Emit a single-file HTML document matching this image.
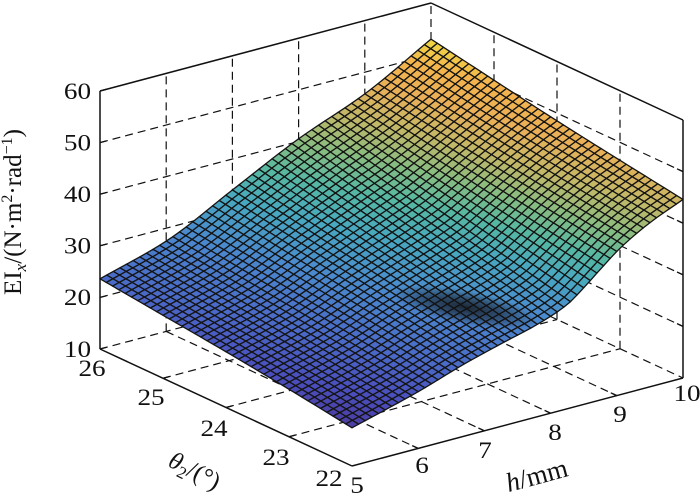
<!DOCTYPE html>
<html><head><meta charset="utf-8">
<style>
html,body{margin:0;padding:0;background:#fff;}
svg{display:block;}
text{font-family:"Liberation Serif","Times New Roman",serif;fill:#111;}
</style></head>
<body>
<svg id="s" width="700" height="495" viewBox="0 0 700 495" xmlns="http://www.w3.org/2000/svg">
<defs>
<radialGradient id="dg" cx="0.5" cy="0.5" r="0.5">
<stop offset="0" stop-color="#111" stop-opacity="0.8"/>
<stop offset="0.55" stop-color="#111" stop-opacity="0.45"/>
<stop offset="1" stop-color="#111" stop-opacity="0"/>
</radialGradient>
<clipPath id="sc"><path id="scp" d=""/></clipPath>
</defs>
<!-- dashed grid -->
<g stroke="#111" stroke-width="1.2" stroke-dasharray="8,5" fill="none">
<line x1="100" y1="297.4" x2="431" y2="209.4"/>
<line x1="100" y1="245.8" x2="431" y2="157.8"/>
<line x1="100" y1="194.2" x2="431" y2="106.2"/>
<line x1="100" y1="142.6" x2="431" y2="54.6"/>
<line x1="166.2" y1="331.4" x2="166.2" y2="73.4"/>
<line x1="232.4" y1="313.8" x2="232.4" y2="55.8"/>
<line x1="298.6" y1="296.2" x2="298.6" y2="38.2"/>
<line x1="364.8" y1="278.6" x2="364.8" y2="20.6"/>
<line x1="431" y1="261" x2="431" y2="3"/>
<line x1="431" y1="209.4" x2="683" y2="326.4"/>
<line x1="431" y1="157.8" x2="683" y2="274.8"/>
<line x1="431" y1="106.2" x2="683" y2="223.2"/>
<line x1="431" y1="54.6" x2="683" y2="171.6"/>
<line x1="494" y1="290.25" x2="494" y2="32.25"/>
<line x1="557" y1="319.5" x2="557" y2="61.5"/>
<line x1="620" y1="348.75" x2="620" y2="90.75"/>
<line x1="100" y1="349" x2="431" y2="261"/>
<line x1="431" y1="261" x2="683" y2="378"/>
<line x1="163" y1="378.25" x2="494" y2="290.25"/>
<line x1="226" y1="407.5" x2="557" y2="319.5"/>
<line x1="289" y1="436.75" x2="620" y2="348.75"/>
<line x1="166.2" y1="331.4" x2="418.2" y2="448.4"/>
<line x1="232.4" y1="313.8" x2="484.4" y2="430.8"/>
<line x1="298.6" y1="296.2" x2="550.6" y2="413.2"/>
<line x1="364.8" y1="278.6" x2="616.8" y2="395.6"/>
</g>

<g id="surf" stroke="#141414" stroke-width="1.3" stroke-linejoin="round"></g>
<g clip-path="url(#sc)">
<ellipse cx="465" cy="307" rx="74" ry="17" transform="rotate(11 465 307)" fill="url(#dg)"/>
</g>

<!-- solid axes -->
<g stroke="#111" stroke-width="1.5" fill="none">
<line x1="100" y1="91" x2="100" y2="349"/>
<line x1="100" y1="349" x2="352" y2="466"/>
<line x1="352" y1="466" x2="683" y2="378"/>
<line x1="683" y1="378" x2="683" y2="120"/>
<line x1="100" y1="91" x2="431" y2="3"/>
<line x1="431" y1="3" x2="683" y2="120"/>
</g>
<!-- ticks -->
<g stroke="#111" stroke-width="1.3" fill="none">
<line x1="100" y1="349" x2="106.5" y2="347.3"/>
<line x1="100" y1="297.4" x2="106.5" y2="295.7"/>
<line x1="100" y1="245.8" x2="106.5" y2="244.1"/>
<line x1="100" y1="194.2" x2="106.5" y2="192.5"/>
<line x1="100" y1="142.6" x2="106.5" y2="140.9"/>
<line x1="100" y1="91" x2="106.5" y2="89.3"/>
<line x1="163" y1="378.25" x2="169.5" y2="376.5"/>
<line x1="226" y1="407.5" x2="232.5" y2="405.8"/>
<line x1="289" y1="436.75" x2="295.5" y2="435"/>
<line x1="418.2" y1="448.4" x2="412.2" y2="445.6"/>
<line x1="484.4" y1="430.8" x2="478.4" y2="428"/>
<line x1="550.6" y1="413.2" x2="544.6" y2="410.4"/>
<line x1="616.8" y1="395.6" x2="610.8" y2="392.8"/>
<line x1="683" y1="326.4" x2="677" y2="323.6"/>
<line x1="683" y1="274.8" x2="677" y2="272"/>
<line x1="683" y1="223.2" x2="677" y2="220.4"/>
<line x1="683" y1="171.6" x2="677" y2="168.8"/>
</g>

<!-- z tick labels -->
<g font-size="23" text-anchor="end">
<text transform="translate(91,98.8) scale(1.18,1)">60</text>
<text transform="translate(91,150.4) scale(1.18,1)">50</text>
<text transform="translate(91,202) scale(1.18,1)">40</text>
<text transform="translate(91,253.6) scale(1.18,1)">30</text>
<text transform="translate(91,305.2) scale(1.18,1)">20</text>
<text transform="translate(91,356.8) scale(1.18,1)">10</text>
</g>
<!-- theta tick labels -->
<g font-size="23" text-anchor="middle">
<text transform="translate(92,375.8) scale(1.18,1)">26</text>
<text transform="translate(151,404.8) scale(1.18,1)">25</text>
<text transform="translate(214,435.8) scale(1.18,1)">24</text>
<text transform="translate(276,464.8) scale(1.18,1)">23</text>
<text transform="translate(329,485.8) scale(1.18,1)">22</text>
</g>
<!-- h tick labels -->
<g font-size="23" text-anchor="middle">
<text transform="translate(357,492.8) scale(1.18,1)">5</text>
<text transform="translate(422,472.8) scale(1.18,1)">6</text>
<text transform="translate(485,457.8) scale(1.18,1)">7</text>
<text transform="translate(555,439.8) scale(1.18,1)">8</text>
<text transform="translate(620,421.8) scale(1.18,1)">9</text>
<text transform="translate(687,400.8) scale(1.18,1)">10</text>
</g>
<!-- axis labels -->
<text transform="translate(21,212) rotate(-90)" text-anchor="middle" font-size="25">EI<tspan dy="5" font-size="17" font-style="italic">x</tspan><tspan dy="-5">/(N·m</tspan><tspan dy="-9" font-size="16">2</tspan><tspan dy="9">·rad</tspan><tspan dy="-9" font-size="16">−1</tspan><tspan dy="9">)</tspan></text>
<text transform="translate(191,478) rotate(27)" text-anchor="middle" font-size="25"><tspan font-style="italic">θ</tspan><tspan dy="5" font-size="17">2</tspan><tspan dy="-5">/(°)</tspan></text>
<text transform="translate(539,484) rotate(-15)" text-anchor="middle" font-size="27"><tspan font-style="italic">h</tspan>/mm</text>
</svg>
<script>
(function(){
function P(th,h,z){return [100+(26-th)*63+(h-5)*66.2, 349+(26-th)*29.25-(h-5)*17.6-(z-10)*5.16];}
function mk(xs,ys){
  var n=xs.length,d=[],m=[],i;
  for(i=0;i<n-1;i++)d.push((ys[i+1]-ys[i])/(xs[i+1]-xs[i]));
  m[0]=d[0];m[n-1]=d[n-2];
  for(i=1;i<n-1;i++){
    if(d[i-1]*d[i]<=0)m[i]=0;
    else{var h1=xs[i]-xs[i-1],h2=xs[i+1]-xs[i];var w1=2*h2+h1,w2=h2+2*h1;m[i]=(w1+w2)/(w1/d[i-1]+w2/d[i]);}
  }
  return function(x){
    if(x<=xs[0])return ys[0];if(x>=xs[n-1])return ys[n-1];
    var k=0;while(x>xs[k+1])k++;
    var hh=xs[k+1]-xs[k],t=(x-xs[k])/hh,t2=t*t,t3=t2*t;
    return (2*t3-3*t2+1)*ys[k]+(t3-2*t2+t)*hh*m[k]+(-2*t3+3*t2)*ys[k+1]+(t3-t2)*hh*m[k+1];
  };
}
var E1=mk([5,6,7,8,9,10],[23.6,27.5,34,40.5,45.8,53]);
var E2=mk([5,6,6.7,7.25,7.8,8.25,8.5,8.75,9.05,9.5,10],[17.4,21,24,26,27.9,30.2,32.6,35.3,38.4,41.8,44.6]);
var F1=mk([22,23,24,25,26],[17.4,19.2,20.8,22.2,23.6]);
var F2=mk([22,24,26],[44.6,48.5,53]);
var Nt=40,Nh=50,Z=[],i,j;
for(i=0;i<=Nt;i++){Z[i]=[];var s=i/Nt,th=26-4*s;
  for(j=0;j<=Nh;j++){var t=j/Nh,h=5+5*t;
    Z[i][j]=(1-s)*E1(h)+s*E2(h)+(1-t)*F1(th)+t*F2(th)-((1-s)*(1-t)*23.6+s*(1-t)*17.4+(1-s)*t*53+s*t*44.6);
  }}
var stops=[[0,[76,58,156]],[0.08,[74,78,188]],[0.18,[74,106,200]],[0.32,[74,138,206]],[0.44,[72,168,192]],[0.54,[86,184,162]],[0.63,[136,188,128]],[0.72,[192,184,104]],[0.82,[234,176,88]],[0.91,[244,180,76]],[0.96,[240,204,72]],[1,[236,224,64]]];
function cmap(v){
  var t=(v-17)/(53.5-17);if(t<0)t=0;if(t>1)t=1;
  for(var k=0;k<stops.length-1;k++){
    if(t<=stops[k+1][0]){var a=stops[k],b=stops[k+1],f=(t-a[0])/(b[0]-a[0]);
      return 'rgb('+Math.round(a[1][0]+f*(b[1][0]-a[1][0]))+','+Math.round(a[1][1]+f*(b[1][1]-a[1][1]))+','+Math.round(a[1][2]+f*(b[1][2]-a[1][2]))+')';}
  }
  return 'rgb(236,224,64)';
}
function pt(i,j){var p=P(26-4*i/Nt,5+5*j/Nh,Z[i][j]);return p[0].toFixed(2)+','+p[1].toFixed(2);}
var g=document.getElementById('surf');
var html='';
for(i=0;i<Nt;i++){
  for(j=Nh-1;j>=0;j--){
    var zc=(Z[i][j]+Z[i+1][j]+Z[i][j+1]+Z[i+1][j+1])/4;
    html+='<polygon points="'+pt(i,j)+' '+pt(i+1,j)+' '+pt(i+1,j+1)+' '+pt(i,j+1)+'" fill="'+cmap(zc)+'"/>';
  }
}
g.innerHTML=html;
var d='M'+pt(0,0);
for(j=1;j<=Nh;j++)d+=' L'+pt(0,j);
for(i=1;i<=Nt;i++)d+=' L'+pt(i,Nh);
for(j=Nh-1;j>=0;j--)d+=' L'+pt(Nt,j);
for(i=Nt-1;i>=0;i--)d+=' L'+pt(i,0);
d+='Z';
document.getElementById('scp').setAttribute('d',d);
})();
</script>
</body></html>
